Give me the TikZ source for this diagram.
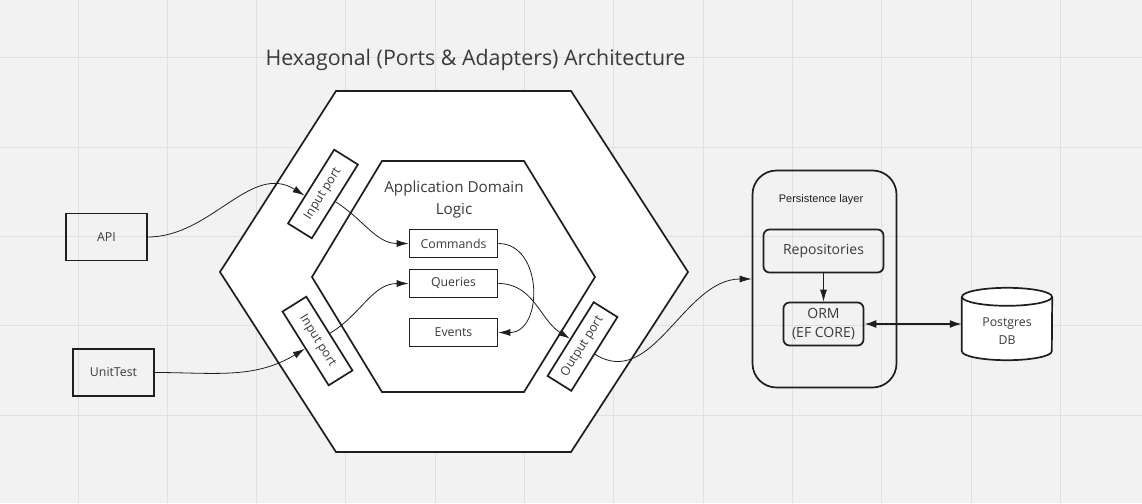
\documentclass[tikz,border=0pt]{standalone}
\usepackage{fontspec}
\setmainfont{Open Sans}
\newfontfamily\arialf{Liberation Sans}
\usetikzlibrary{arrows.meta,calc}
\definecolor{bg}{HTML}{F2F2F2}
\definecolor{gridc}{HTML}{E0E0E0}
\definecolor{ink}{HTML}{1E1E1E}
\definecolor{txt}{HTML}{3A3A3A}
\tikzset{
  shapeline/.style={draw=ink, line width=1.7pt},
  box/.style={shapeline, text=txt, font=\fontsize{12.3}{14}\selectfont, inner sep=0pt},
  port/.style={box, fill=white, minimum width=87pt, minimum height=28pt},
  inbox/.style={box, fill=white, minimum width=88pt, minimum height=28pt},
  conn/.style={draw=ink, line width=0.8pt, -{Latex[length=12pt,width=7pt]}},
}
\begin{document}
\begin{tikzpicture}[x=1pt,y=1pt]
\fill[bg] (0,0) rectangle (1142,-503);
\useasboundingbox (0,0) rectangle (1142,-503);
\foreach \i in {0,...,11} \draw[gridc, line width=1pt] ({78+89.3*\i},0) -- ({78+89.3*\i},-503);
\foreach \j in {0,...,4} \draw[gridc, line width=1pt] (0,{-58-89.3*\j}) -- (1142,{-58-89.3*\j});

% hexagons
\draw[shapeline, fill=white] (336,-91) -- (571,-91) -- (688,-272) -- (571,-452) -- (336,-452) -- (220,-272) -- cycle;
\draw[shapeline, fill=white] (382,-161) -- (524,-161) -- (595,-277) -- (524,-392) -- (382,-392) -- (312,-277) -- cycle;

% title
\node[anchor=base, text=txt, font=\fontsize{21.4}{25}\selectfont] (title) at (475.5,-65) {Hexagonal (Ports \& Adapters) Architecture};
\node[text=txt, font=\fontsize{15.2}{22}\selectfont, align=center] (dom) at (454,-200) {Application Domain\\Logic};

% outside adapters
\node[box, minimum width=81pt, minimum height=47pt] (api) at (106.5,-237) {API};
\node[box, minimum width=81pt, minimum height=47pt] (ut) at (113.5,-372.5) {UnitTest};

% ports
\node[port, rotate=58] (ip1) at (323,-194) {Input port};
\node[port, rotate=-58] (ip2) at (317.5,-341) {Input port};
\node[port, rotate=58] (op) at (582.5,-346.5) {Output port};

% domain boxes
\node[inbox] (cmd) at (453.5,-243.5) {Commands};
\node[inbox] (qry) at (453.5,-283.5) {Queries};
\node[inbox] (evt) at (453.5,-332.5) {Events};

% persistence
\node[shapeline, rounded corners=24pt, minimum width=144pt, minimum height=217pt] (pers) at (824.5,-279) {};
\node[text=ink, font=\arialf\fontsize{11}{13}\selectfont] (plabel) at (821,-200) {Persistence layer};
\node[box, rounded corners=6pt, minimum width=120pt, minimum height=43pt, font=\fontsize{14}{17}\selectfont] (repo) at (823.5,-251) {Repositories};
\node[box, rounded corners=6pt, minimum width=80pt, minimum height=43pt, align=center, font=\fontsize{14}{19}\selectfont] (orm) at (823.5,-324) {ORM\\(EF CORE)};

% database cylinder
\node[minimum width=90pt, minimum height=72pt, inner sep=0pt] (db) at (1007,-324) {};
\draw[shapeline, fill=white] (db.north west) ++(0,-9) -- ($(db.south west)+(0,9)$) arc[start angle=180, end angle=360, x radius=45, y radius=9] -- ($(db.north east)+(0,-9)$);
\draw[shapeline, fill=white] ($(db.north)+(0,-9)$) ellipse[x radius=45, y radius=9];
\node[text=txt, font=\fontsize{12.3}{18}\selectfont, align=center] (dbtxt) at ($(db.center)+(0,-7)$) {Postgres\\DB};

% connectors
\draw[conn] (api.east) to[out=0, in=148] ($(ip1.north)!0.25!(ip1.north west)$);
\draw[conn] (ip1.south) to[out=-32, in=180] (cmd.west);
\draw[conn] (ut.east) to[out=0, in=-149] (ip2.south);
\draw[conn] (ip2.north) to[out=31, in=180] (qry.west);
\draw[conn] (cmd.east) to[out=0, in=0, looseness=1.3] (evt.east);
\draw[conn] (qry.east) to[out=0, in=148] (op.north);
\draw[conn] (op.south) to[out=-32, in=180] (pers.west);
\draw[conn] (repo.south) -- (orm.north);
\draw[draw=ink, line width=1.6pt, {Latex[length=12pt,width=8pt]}-{Latex[length=12pt,width=8pt]}] (orm.east) -- (orm.east -| db.west);
\end{tikzpicture}
\end{document}
